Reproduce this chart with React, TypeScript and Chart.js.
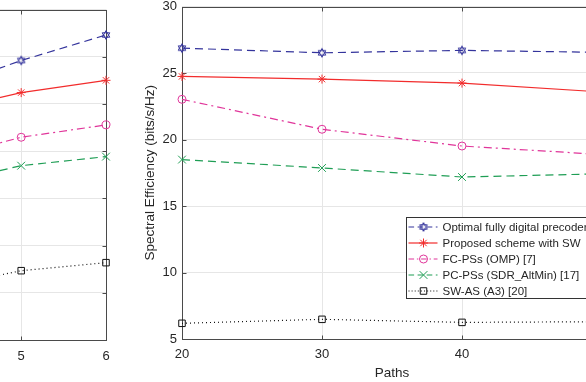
import React, { useEffect, useRef } from "react";
import { Chart, registerables } from "chart.js";
import { drawPoint } from "chart.js/helpers";

Chart.register(...registerables);

// ---------------- data ----------------
const seriesLabels = [
  "Optimal fully digital precoder",
  "Proposed scheme with SW",
  "FC-PSs (OMP) [7]",
  "PC-PSs (SDR_AltMin) [17]",
  "SW-AS (A3) [20]",
];

// right panel: spectral efficiency vs. number of paths
const pathsCategories = [20, 30, 40, 50];
const pathsOptimal = [26.87, 26.52, 26.7, 26.55];
const pathsProposed = [24.74, 24.54, 24.24, 23.57];
const pathsFC = [23.02, 20.77, 19.51, 18.87];
const pathsPC = [18.49, 17.86, 17.18, 17.42];
const pathsSW = [6.18, 6.48, 6.25, 6.3];
const pathsXTicks = [20, 30, 40, 50];
const pathsYTicks = [5, 10, 15, 20, 25, 30];

// left panel (only its right end is visible)
const leftCategories = [4, 5, 6];
const leftOptimal = [26.4, 29.6, 32.3];
const leftProposed = [24.1, 26.2, 27.5];
const leftFC = [19.1, 21.47, 22.78];
const leftPC = [16.4, 18.46, 19.42];
const leftSW = [5.5, 7.34, 8.19];
const leftXTicks = [5, 6];
const leftYTicks = [0, 5, 10, 15, 20, 25, 30, 35];

const xTitle = "Paths";
const yTitle = "Spectral Efficiency (bits/s/Hz)";

// ---------------- styles ----------------
const FONT = '"Liberation Sans", Arial, Helvetica, sans-serif';
const TEXT_COLOR = "#262626";
const GRID_COLOR = "#E6E6E6";
const AXIS_COLOR = "#4a4a4a";

function makeHexagram(color: string): HTMLCanvasElement {
  const c = document.createElement("canvas");
  c.width = 12;
  c.height = 12;
  const ctx = c.getContext("2d")!;
  ctx.strokeStyle = color;
  ctx.lineWidth = 1;
  const r = 4.4;
  const cx = 6;
  const cy = 6;
  for (const start of [-90, 90]) {
    ctx.beginPath();
    for (let k = 0; k < 3; k++) {
      const a = ((start + k * 120) * Math.PI) / 180;
      const px = cx + r * Math.cos(a);
      const py = cy + r * Math.sin(a);
      if (k === 0) ctx.moveTo(px, py);
      else ctx.lineTo(px, py);
    }
    ctx.closePath();
    ctx.stroke();
  }
  return c;
}

const seriesStyles = [
  { color: "#34349c", dash: [8, 5], style: "hexagram", radius: 4.5 },
  { color: "#f22c2c", dash: [], style: "star", radius: 4.5 },
  { color: "#e0359a", dash: [8, 4, 2, 4], style: "circle", radius: 4 },
  { color: "#1f9e55", dash: [8, 5], style: "crossRot", radius: 5.5 },
  { color: "#111111", dash: [1, 3], style: "rect", radius: 4.6 },
];

function buildDatasets(xs: number[], ys: number[][]) {
  return seriesLabels.map((label, i) => {
    const st = seriesStyles[i];
    const pointStyle: any = st.style === "hexagram" ? makeHexagram(st.color) : st.style;
    return {
      label,
      data: xs.map((x, j) => ({ x, y: ys[i][j] })),
      borderColor: st.color,
      backgroundColor: st.color,
      borderDash: st.dash,
      borderWidth: 1.2,
      pointStyle,
      pointRadius: st.radius,
      pointHoverRadius: st.radius,
      pointBorderColor: st.color,
      pointBackgroundColor: "rgba(0,0,0,0)",
      pointBorderWidth: 1,
      fill: false,
      tension: 0,
      clip: false as any,
    };
  });
}

// frame with inward ticks (MATLAB box)
const framePlugin = {
  id: "frame",
  beforeDatasetsDraw(chart: any, _args: any, opts: any) {
    const { ctx, chartArea } = chart;
    const { left, right, top, bottom } = chartArea;
    const showLeft = !(opts && opts.hideLeft);
    const xs = chart.scales.x;
    const ys = chart.scales.y;
    const tl = 4;
    const L = Math.round(left) + 0.5;
    const R = Math.round(right) + 0.5;
    const T = Math.round(top) + 0.5;
    const B = Math.round(bottom) + 0.5;
    ctx.save();
    ctx.strokeStyle = AXIS_COLOR;
    ctx.lineWidth = 1;
    ctx.setLineDash([]);
    ctx.beginPath();
    ctx.moveTo(L - 0.5, T);
    ctx.lineTo(R + 0.5, T);
    ctx.moveTo(L - 0.5, B);
    ctx.lineTo(R + 0.5, B);
    ctx.moveTo(R, T);
    ctx.lineTo(R, B);
    if (showLeft) {
      ctx.moveTo(L, T);
      ctx.lineTo(L, B);
    }
    xs.ticks.forEach((t: any) => {
      const px = Math.round(xs.getPixelForValue(t.value)) + 0.5;
      ctx.moveTo(px, B);
      ctx.lineTo(px, B - tl);
      ctx.moveTo(px, T);
      ctx.lineTo(px, T + tl);
    });
    ys.ticks.forEach((t: any) => {
      const py = Math.round(ys.getPixelForValue(t.value)) + 0.5;
      if (showLeft) {
        ctx.moveTo(L, py);
        ctx.lineTo(L + tl, py);
      }
      ctx.moveTo(R, py);
      ctx.lineTo(R - tl, py);
    });
    ctx.stroke();
    ctx.restore();
  },
};

// legend box drawn inside the plot area
const legendPlugin = {
  id: "seLegend",
  afterDraw(chart: any, _args: any, opts: any) {
    const { ctx, chartArea } = chart;
    const x0 = Math.round(chartArea.left + opts.offsetX) + 0.5;
    const y0 = Math.round(chartArea.top + opts.offsetY) + 0.5;
    const rowH = 16;
    const datasets = chart.data.datasets;
    ctx.save();
    ctx.font = `${opts.fontSize}px ${FONT}`;
    const textW = Math.max(...datasets.map((d: any) => ctx.measureText(d.label).width));
    const w = 36 + textW + 6;
    const h = rowH * datasets.length + 1;
    ctx.fillStyle = "#ffffff";
    ctx.fillRect(x0, y0, w, h);
    ctx.strokeStyle = "#333333";
    ctx.lineWidth = 1;
    ctx.strokeRect(x0, y0, w, h);
    datasets.forEach((d: any, i: number) => {
      const cy = y0 + 9.5 + i * rowH;
      ctx.strokeStyle = d.borderColor;
      ctx.lineWidth = d.borderWidth;
      ctx.setLineDash(d.borderDash.length ? d.borderDash.map((v: number) => Math.max(1, v * 0.7)) : []);
      ctx.beginPath();
      ctx.moveTo(x0 + 2, cy);
      ctx.lineTo(x0 + 31, cy);
      ctx.stroke();
      ctx.setLineDash([]);
      ctx.fillStyle = "rgba(0,0,0,0)";
      ctx.strokeStyle = d.pointBorderColor;
      ctx.lineWidth = 1;
      drawPoint(ctx, { pointStyle: d.pointStyle, radius: d.pointRadius, borderWidth: 1, rotation: 0 } as any, x0 + 17, cy);
      ctx.fillStyle = TEXT_COLOR;
      ctx.textBaseline = "middle";
      ctx.textAlign = "left";
      ctx.fillText(d.label, x0 + 36, cy + 0.5);
    });
    ctx.restore();
  },
};

function makeTicksSetter(values: number[]) {
  return (scale: any) => {
    scale.ticks = values.map((v) => ({ value: v }));
  };
}

// the left canvas is shifted left by this amount so its hidden y-axis box sits off-screen
const LEFT_SHIFT = 20;

function App() {
  const leftRef = useRef<HTMLCanvasElement>(null);
  const rightRef = useRef<HTMLCanvasElement>(null);

  useEffect(() => {
    const tickFont = { family: FONT, size: 13 };

    const leftChart = new Chart(leftRef.current!, {
      type: "line",
      data: {
        datasets: buildDatasets(leftCategories, [leftOptimal, leftProposed, leftFC, leftPC, leftSW]) as any,
      },
      options: {
        animation: false,
        responsive: false,
        events: [],
        layout: { padding: { left: 0, right: 14, top: 9.5, bottom: 0 } },
        plugins: { legend: { display: false }, tooltip: { enabled: false }, frame: { hideLeft: true } } as any,
        scales: {
          x: {
            type: "linear",
            min: 4.75,
            max: 6,
            afterBuildTicks: makeTicksSetter(leftXTicks),
            afterFit: (s: any) => {
              s.height = 42;
            },
            grid: { color: GRID_COLOR, drawTicks: false },
            border: { display: false },
            ticks: { font: tickFont, color: TEXT_COLOR, padding: 9, autoSkip: false, maxRotation: 0 },
          },
          y: {
            type: "linear",
            min: 0,
            max: 35,
            afterBuildTicks: makeTicksSetter(leftYTicks),
            afterFit: (s: any) => {
              s.width = LEFT_SHIFT;
              s.paddingTop = 0;
              s.paddingBottom = 0;
            },
            grid: { color: GRID_COLOR, drawTicks: false },
            border: { display: false },
            ticks: { display: false },
          },
        },
      },
      plugins: [framePlugin],
    } as any);

    const rightChart = new Chart(rightRef.current!, {
      type: "line",
      data: {
        datasets: buildDatasets(pathsCategories, [pathsOptimal, pathsProposed, pathsFC, pathsPC, pathsSW]) as any,
      },
      options: {
        animation: false,
        responsive: false,
        events: [],
        layout: { padding: { left: 8, right: 48, top: 6, bottom: 0 } },
        plugins: {
          legend: { display: false },
          tooltip: { enabled: false },
          frame: { hideLeft: false },
          seLegend: { offsetX: 224, offsetY: 210, fontSize: 11.5 },
        } as any,
        scales: {
          x: {
            type: "linear",
            min: 20,
            max: 50,
            afterBuildTicks: makeTicksSetter(pathsXTicks),
            afterFit: (s: any) => {
              s.height = 43;
            },
            grid: { color: GRID_COLOR, drawTicks: false },
            border: { display: false },
            ticks: { font: tickFont, color: TEXT_COLOR, padding: 8, autoSkip: false, maxRotation: 0 },
            title: {
              display: true,
              text: xTitle,
              font: { family: FONT, size: 13.5 },
              color: TEXT_COLOR,
              padding: { top: 2, bottom: 1 },
            },
          },
          y: {
            type: "linear",
            min: 5,
            max: 30,
            afterBuildTicks: makeTicksSetter(pathsYTicks),
            afterFit: (s: any) => {
              s.width = 44;
              s.paddingTop = 0;
              s.paddingBottom = 0;
            },
            grid: { color: GRID_COLOR, drawTicks: false },
            border: { display: false },
            ticks: { font: tickFont, color: TEXT_COLOR, padding: 5 },
            title: {
              display: true,
              text: yTitle,
              font: { family: FONT, size: 13.5 },
              color: TEXT_COLOR,
              padding: { top: 4, bottom: 0 },
            },
          },
        },
      },
      plugins: [framePlugin, legendPlugin],
    } as any);

    return () => {
      leftChart.destroy();
      rightChart.destroy();
    };
  }, []);

  return (
    <div
      style={{
        position: "fixed",
        left: 0,
        top: 0,
        width: 586,
        height: 382,
        overflow: "hidden",
        background: "#ffffff",
      }}
    >
      <canvas
        ref={leftRef}
        width={120 + LEFT_SHIFT}
        height={382}
        style={{ position: "absolute", left: -LEFT_SHIFT, top: 0, width: 120 + LEFT_SHIFT, height: 382 }}
      />
      <canvas
        ref={rightRef}
        width={520}
        height={382}
        style={{ position: "absolute", left: 130, top: 0, width: 520, height: 382 }}
      />
    </div>
  );
}

export default App;
